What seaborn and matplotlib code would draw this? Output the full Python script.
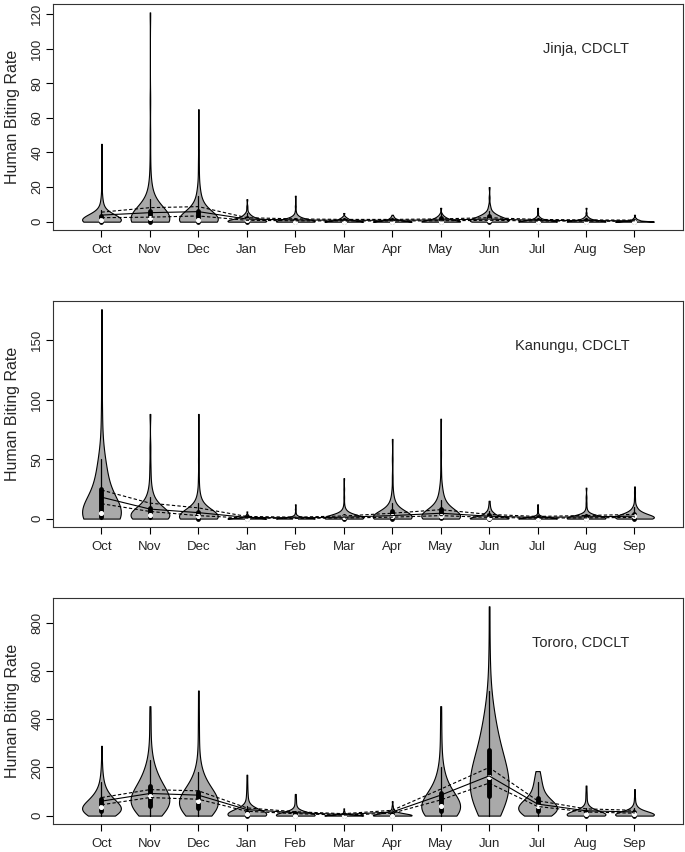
import numpy as np
import pandas as pd
import matplotlib
matplotlib.use("Agg")
import matplotlib.pyplot as plt
import seaborn as sns

# months on the x axis (Oct..Sep)
months = ["Oct", "Nov", "Dec", "Jan", "Feb", "Mar", "Apr", "May", "Jun", "Jul", "Aug", "Sep"]

# biting rate values seen per month and how often each occurs
jinja_values = [
    [0, 1, 2, 3, 4, 5, 7, 9, 12, 16, 22, 30, 45],
    [0, 1, 2, 3, 4, 6, 8, 10, 13, 16, 20, 25, 35, 50, 70, 121],
    [0, 1, 2, 3, 4, 5, 6, 7, 8, 10, 12, 15, 18, 22, 28, 35, 45, 65],
    [0, 1, 2, 3, 4, 5, 7, 9, 13],
    [0, 1, 2, 3, 4, 6, 9, 15],
    [0, 1, 2, 3, 5],
    [0, 1, 2, 3, 4],
    [0, 1, 2, 3, 4, 5, 8],
    [0, 1, 2, 3, 4, 5, 6, 8, 10, 14, 20],
    [0, 1, 2, 3, 5, 8],
    [0, 1, 2, 3, 5, 8],
    [0, 1, 2, 4],
]
jinja_counts = [
    [30, 14, 10, 7, 5, 4, 3, 2, 2, 1, 1, 1, 1],
    [30, 14, 10, 8, 6, 5, 4, 3, 3, 2, 2, 1, 1, 1, 1, 1],
    [30, 12, 6, 4, 4, 4, 3, 3, 3, 3, 2, 2, 2, 1, 1, 1, 1, 1],
    [30, 15, 8, 5, 3, 2, 1, 1, 1],
    [35, 12, 6, 3, 2, 1, 1, 1],
    [30, 10, 5, 2, 1],
    [30, 10, 4, 2, 1],
    [30, 12, 7, 4, 2, 1, 1],
    [25, 14, 10, 7, 5, 3, 2, 2, 1, 1, 1],
    [35, 10, 4, 2, 1, 1],
    [35, 9, 4, 2, 1, 1],
    [35, 8, 3, 1],
]

kanungu_values = [
    [0, 1, 2, 3, 5, 8, 12, 16, 20, 25, 30, 35, 40, 45, 50, 60, 70, 90, 120, 176],
    [0, 1, 2, 3, 4, 5, 6, 8, 10, 12, 15, 18, 22, 28, 35, 45, 60, 88],
    [0, 1, 2, 3, 4, 5, 6, 8, 10, 13, 16, 20, 25, 35, 50, 88],
    [0, 1, 2, 3, 4, 6],
    [0, 1, 2, 3, 5, 8, 12],
    [0, 1, 2, 3, 4, 6, 8, 12, 18, 25, 34],
    [0, 1, 2, 3, 4, 6, 8, 10, 13, 16, 20, 25, 35, 50, 67],
    [0, 1, 2, 3, 4, 6, 8, 10, 13, 16, 20, 25, 30, 40, 55, 84],
    [0, 1, 2, 3, 4, 5, 6, 8, 10, 12, 15],
    [0, 1, 2, 3, 5, 8, 12],
    [0, 1, 2, 3, 4, 6, 9, 13, 18, 26],
    [0, 1, 2, 3, 4, 5, 6, 8, 10, 13, 17, 22, 27],
]
kanungu_counts = [
    [10, 7, 6, 6, 6, 4, 4, 3, 3, 3, 3, 2, 2, 2, 2, 1, 1, 1, 1, 1],
    [14, 8, 6, 6, 5, 4, 4, 3, 3, 3, 2, 2, 2, 1, 1, 1, 1, 1],
    [22, 10, 6, 5, 4, 4, 3, 3, 2, 2, 2, 1, 1, 1, 1, 1],
    [40, 10, 4, 2, 1, 1],
    [45, 6, 3, 2, 1, 1, 1],
    [35, 12, 8, 5, 4, 3, 2, 1, 1, 1, 1],
    [25, 12, 8, 6, 5, 4, 4, 3, 2, 2, 1, 1, 1, 1, 1],
    [20, 12, 8, 6, 5, 5, 4, 4, 3, 3, 2, 2, 1, 1, 1, 1],
    [30, 8, 5, 4, 3, 3, 2, 2, 1, 1, 1],
    [40, 8, 4, 2, 1, 1, 1],
    [35, 10, 6, 4, 3, 2, 1, 1, 1, 1],
    [22, 12, 8, 6, 5, 4, 3, 3, 2, 1, 1, 1, 1],
]

tororo_values = [
    [0, 5, 10, 15, 20, 25, 30, 35, 40, 50, 60, 70, 80, 90, 100, 120, 140, 160, 180, 220, 290],
    [0, 10, 20, 30, 40, 50, 60, 70, 80, 90, 100, 120, 140, 160, 180, 200, 230, 260, 300, 350, 400, 455],
    [0, 10, 20, 30, 40, 50, 60, 70, 80, 90, 100, 120, 140, 160, 180, 210, 250, 300, 360, 430, 520],
    [0, 5, 10, 15, 20, 25, 30, 40, 50, 65, 80, 100, 130, 170],
    [0, 5, 10, 15, 20, 30, 40, 55, 70, 90],
    [0, 2, 4, 6, 10, 15, 20, 30],
    [0, 3, 6, 10, 15, 20, 30, 40, 60],
    [0, 10, 20, 30, 40, 50, 60, 80, 100, 120, 140, 170, 200, 250, 300, 370, 455],
    [0, 20, 40, 60, 80, 100, 120, 140, 160, 180, 200, 225, 250, 280, 320, 360, 400, 450, 520, 600, 700, 870],
    [0, 10, 20, 30, 40, 50, 60, 80, 100, 120, 140, 160, 185],
    [0, 5, 10, 15, 20, 30, 40, 55, 75, 95, 125],
    [0, 5, 10, 15, 20, 30, 40, 55, 75, 110],
]
tororo_counts = [
    [3, 4, 5, 6, 7, 7, 7, 6, 6, 5, 5, 4, 4, 3, 3, 2, 2, 1, 1, 1, 1],
    [4, 5, 6, 7, 7, 7, 7, 7, 7, 7, 7, 7, 6, 5, 4, 3, 2, 2, 1, 1, 1, 1],
    [4, 6, 7, 8, 8, 8, 7, 7, 6, 6, 5, 5, 4, 3, 2, 2, 1, 1, 1, 1, 1],
    [25, 12, 8, 6, 4, 3, 2, 2, 1, 1, 1, 1, 1, 1],
    [30, 10, 6, 4, 2, 2, 1, 1, 1, 1],
    [40, 10, 5, 3, 2, 1, 1, 1],
    [30, 10, 6, 4, 3, 2, 1, 1, 1],
    [6, 7, 8, 8, 7, 6, 5, 5, 4, 3, 3, 2, 2, 1, 1, 1, 1],
    [4, 5, 6, 6, 7, 7, 7, 7, 6, 6, 6, 6, 6, 5, 5, 5, 4, 3, 2, 1, 1, 1],
    [5, 7, 8, 8, 7, 6, 5, 4, 3, 3, 2, 2, 2],
    [25, 12, 8, 5, 4, 3, 2, 1, 1, 1, 1],
    [25, 12, 8, 5, 4, 3, 2, 1, 1, 1],
]

# monthly mean (solid) and confidence limits (dashed)
jinja_mean = [3.8, 5.2, 5.8, 1.5, 1.0, 0.8, 0.8, 1.0, 1.5, 0.8, 0.6, 0.5]
jinja_lo = [2.3, 2.6, 3.3, 0.8, 0.5, 0.4, 0.4, 0.5, 0.8, 0.4, 0.3, 0.2]
jinja_hi = [5.5, 8.1, 8.7, 2.3, 1.6, 1.3, 1.3, 1.6, 2.3, 1.3, 1.0, 0.9]

kanungu_mean = [18, 8, 5, 1, 0.6, 1.2, 2.5, 4.5, 2, 1, 1.5, 2]
kanungu_lo = [12.5, 6, 2.5, 0.4, 0.2, 0.5, 1.2, 2.5, 1, 0.4, 0.6, 1]
kanungu_hi = [24, 13, 9, 1.8, 1.2, 2.2, 4.5, 7.5, 3.5, 1.8, 2.6, 3.5]

tororo_mean = [60, 92, 85, 25, 12, 5, 15, 85, 165, 48, 20, 15]
tororo_lo = [45, 75, 68, 18, 8, 2, 10, 65, 135, 38, 15, 10]
tororo_hi = [75, 108, 103, 32, 16, 8, 22, 110, 200, 62, 28, 22]

sites = ["Jinja, CDCLT", "Kanungu, CDCLT", "Tororo, CDCLT"]
y_max = [121, 176, 870]
y_ticks = [[0, 20, 40, 60, 80, 100, 120], [0, 50, 100, 150], [0, 200, 400, 600, 800]]
# smoothing per panel (Tororo violins taper more gradually)
bw_adj = [1.0, 1.0, 1.4]

sns.set_style("ticks")
plt.rcParams["font.family"] = ["Liberation Sans", "DejaVu Sans"]

fig = plt.figure(figsize=(6.85, 8.52), dpi=100)

# axes boxes in figure fractions: left, bottom, width, height
boxes = [
    [0.0774, 0.730, 0.9196, 0.2653],
    [0.0774, 0.3815, 0.9196, 0.2653],
    [0.0774, 0.0329, 0.9196, 0.2653],
]

all_values = [jinja_values, kanungu_values, tororo_values]
all_counts = [jinja_counts, kanungu_counts, tororo_counts]
all_mean = [jinja_mean, kanungu_mean, tororo_mean]
all_lo = [jinja_lo, kanungu_lo, tororo_lo]
all_hi = [jinja_hi, kanungu_hi, tororo_hi]

for i in range(3):
    ax = fig.add_axes(boxes[i])

    # long-format table for seaborn
    frames = []
    for m, vals, cnts in zip(months, all_values[i], all_counts[i]):
        frames.append(pd.DataFrame({"month": m, "rate": np.repeat(vals, cnts)}))
    df = pd.concat(frames, ignore_index=True)

    sns.violinplot(data=df, x="month", y="rate", order=months, ax=ax,
                   color="#a9a9a9", linecolor="black", linewidth=0.8,
                   saturation=1, cut=0, density_norm="width", width=0.8,
                   bw_adjust=bw_adj[i], inner="box",
                   inner_kws=dict(box_width=3.5, whis_width=0.9, marker="o"))

    xpos = np.arange(len(months))
    ax.plot(xpos, all_mean[i], color="black", lw=0.8)
    ax.plot(xpos, all_lo[i], color="black", lw=0.8, ls=(0, (3, 2)))
    ax.plot(xpos, all_hi[i], color="black", lw=0.8, ls=(0, (3, 2)))

    ax.set_xlim(-1, 12)
    ax.set_ylim(-0.04 * y_max[i], 1.04 * y_max[i])
    ax.set_yticks(y_ticks[i])
    ax.set_xlabel("")
    ax.set_ylabel("")
    ax.tick_params(axis="both", length=5, width=0.8, labelsize=9.5, color="black")
    ax.tick_params(axis="x", pad=5)
    ax.tick_params(axis="y", pad=2)
    plt.setp(ax.get_yticklabels(), rotation=90, va="center")
    for s in ax.spines.values():
        s.set_linewidth(0.8)
        s.set_color("#333333")

    ax.text(0.915, 0.80, sites[i], transform=ax.transAxes, ha="right",
            va="center", fontsize=10.5)

    # y label placed like R's outer margin text
    b = boxes[i]
    fig.text(0.018, b[1] + b[3] / 2, "Human Biting Rate", rotation=90,
             ha="center", va="center", fontsize=11.5)

fig.savefig("out.png", dpi=100)
